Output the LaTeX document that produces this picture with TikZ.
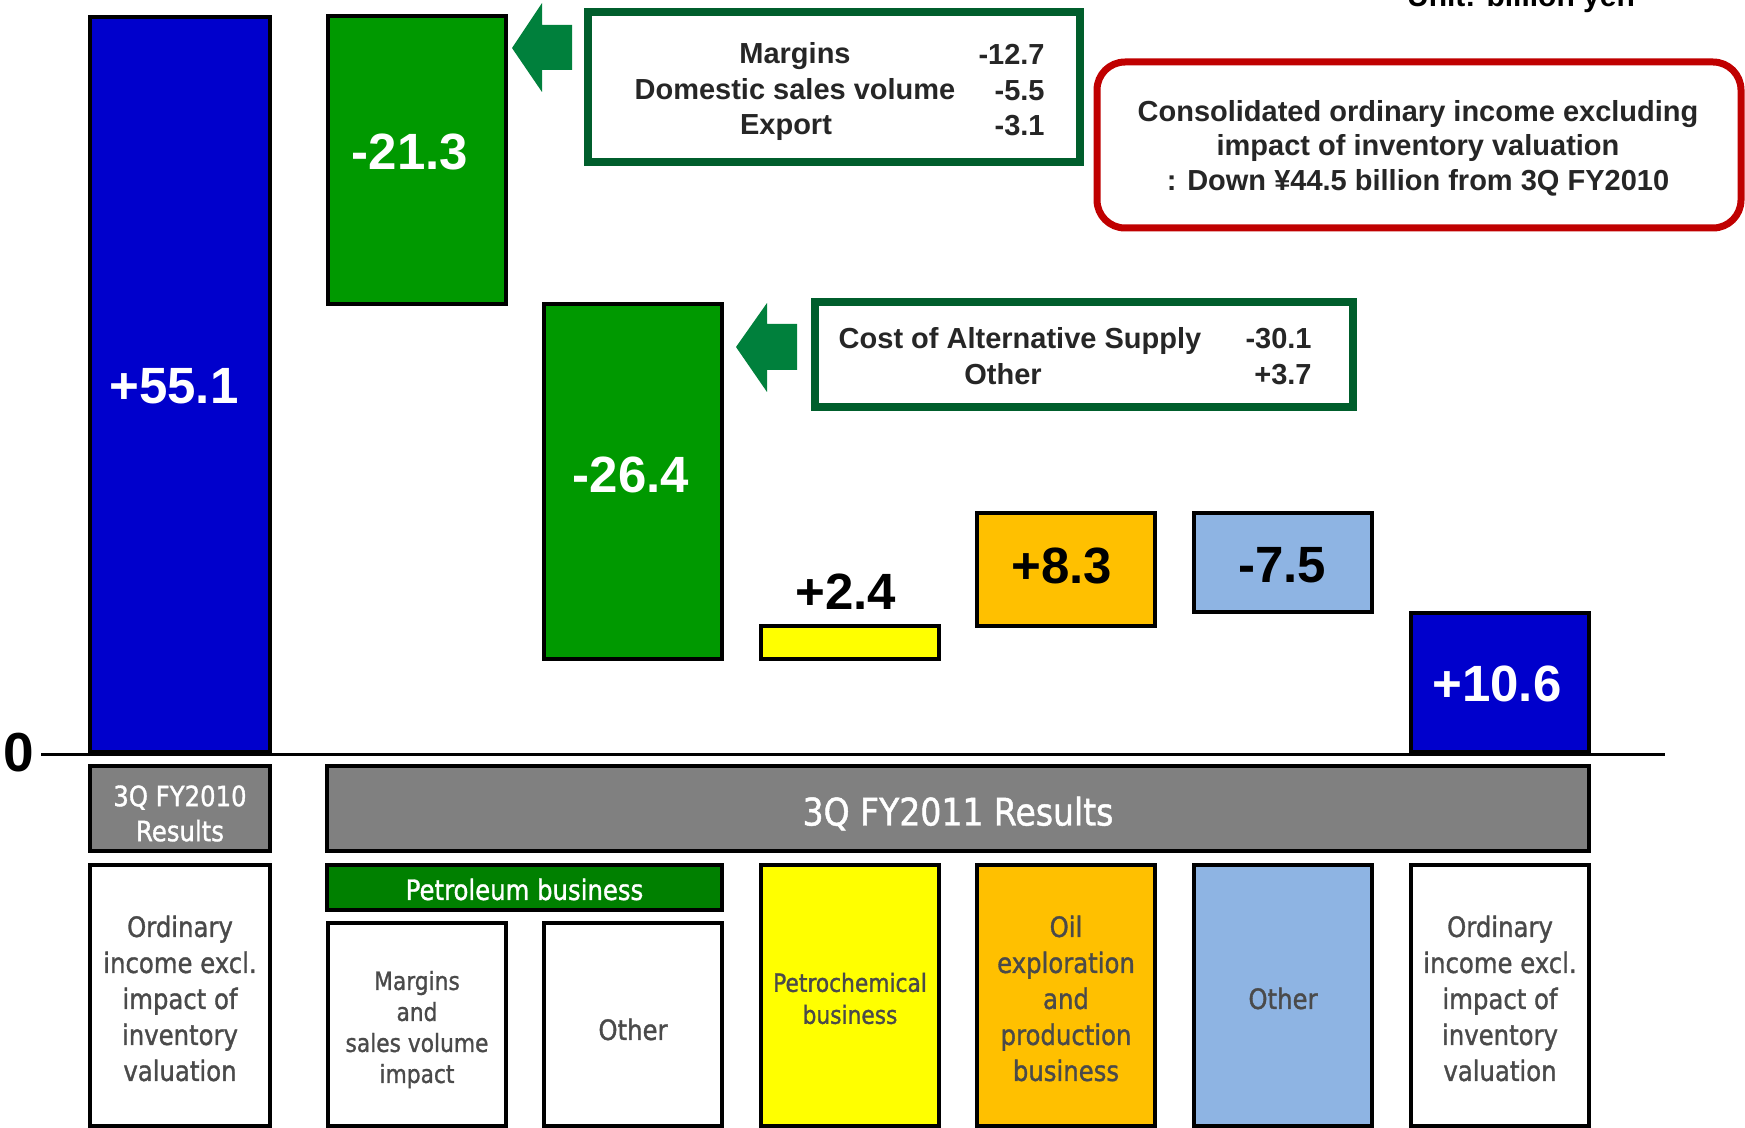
\documentclass[tikz,border=0pt]{standalone}
\usepackage{fontspec}
\setmainfont{Liberation Sans}
\newfontfamily\gfont{DejaVu Sans}[FakeStretch=0.87,FakeBold=1.2]
\usetikzlibrary{fit}
\definecolor{cblue}{HTML}{0000CC}
\definecolor{cgreen}{HTML}{009900}
\definecolor{cyellow}{HTML}{FFFF00}
\definecolor{corange}{HTML}{FFC000}
\definecolor{clblue}{HTML}{8EB4E3}
\definecolor{cgray}{HTML}{808080}
\definecolor{cpetro}{HTML}{008000}
\definecolor{carrow}{HTML}{00803C}
\definecolor{cdkgreen}{HTML}{005E2C}
\definecolor{cred}{HTML}{C00000}
\definecolor{ctext}{HTML}{262626}
\definecolor{cgtext}{HTML}{4A4A4A}
\tikzset{
  barbox/.style={draw=black, line width=2pt, inner sep=0pt},
  numw/.style={font=\fontsize{25.5}{30}\selectfont\bfseries, text=white, inner sep=0pt},
  numb/.style={font=\fontsize{25.5}{30}\selectfont\bfseries, text=black, inner sep=0pt},
  ctxt/.style={font=\fontsize{14.5}{17}\selectfont\bfseries, text=ctext, inner sep=0pt},
  callbox/.style={draw=cdkgreen, line width=4pt, inner sep=0pt, fill=white},
  redbox/.style={draw=cred, line width=3.5pt, rounded corners=14pt, inner sep=0pt, fill=white},
  glab/.style={font=\gfont\fontsize{14}{18}\selectfont, text=cgtext, align=center, inner sep=0pt},
  glabs/.style={font=\gfont\fontsize{12.5}{15.5}\selectfont, text=cgtext, align=center, inner sep=0pt},
  glabp/.style={font=\gfont\fontsize{12.5}{16}\selectfont, text=cgtext, align=center, inner sep=0pt},
  wlab/.style={font=\gfont\fontsize{14}{17.5}\selectfont, text=white, align=center, inner sep=0pt},
  wlabb/.style={font=\gfont\fontsize{19}{22}\selectfont, text=white, inner sep=0pt},
  wlabp/.style={font=\gfont\fontsize{14}{16}\selectfont, text=white, inner sep=0pt},
}
\begin{document}
\begin{tikzpicture}[x=0.5pt,y=-0.5pt]
\useasboundingbox (0,0) rectangle (1745,1128);
\clip (0,0) rectangle (1745,1128);
\fill[white] (0,0) rectangle (1745,1128);

% zero axis
\coordinate (ax0) at (41,754);
\coordinate (ax1) at (1665,754);
\draw[line width=1.5pt] (ax0) -- (ax1);
\node[font=\fontsize{27.5}{30}\selectfont\bfseries, inner sep=0pt] (zlab) at (19,753) {0};

% waterfall bars
\node[barbox, fill=cblue,   fit={(90,17)(270,752)}]    (b1) {};
\node[barbox, fill=cgreen,  fit={(328,16)(506,304)}]   (g1) {};
\node[barbox, fill=cgreen,  fit={(544,304)(722,659)}]  (g2) {};
\node[barbox, fill=cyellow, fit={(761,626)(939,659)}]  (y1) {};
\node[barbox, fill=corange, fit={(977,513)(1155,626)}] (o1) {};
\node[barbox, fill=clblue,  fit={(1194,513)(1372,612)}] (lb1) {};
\node[barbox, fill=cblue,   fit={(1411,613)(1589,752)}] (b2) {};

% bar values
\node[numw] (l1) at (174,386) {+55.1};
\node[numw] (l2) at (410,152) {-21.3};
\node[numw] (l3) at (631,475) {-26.4};
\node[numb] (l4) at (846,592) {+2.4};
\node[numb] (l5) at (1062,566) {+8.3};
\node[numb] (l6) at (1282,565) {-7.5};
\node[numw] (l7) at (1497,684) {+10.6};

% block arrows
\fill[carrow] (512,48) -- (542,3) -- (542,25) -- (572,25) -- (572,70) -- (542,70) -- (542,92) -- cycle;
\fill[carrow] (736,347) -- (767,303) -- (767,324) -- (797,324) -- (797,370) -- (767,370) -- (767,392) -- cycle;

% callout 1
\node[callbox, fit={(587.5,12.5)(1080,162.5)}] (c1) {};
\node[ctxt, anchor=base] (m1) at (795,64) {Margins};
\node[ctxt, anchor=base] (m2) at (795,100) {Domestic sales volume};
\node[ctxt, anchor=base] (m3) at (786,135) {Export};
\node[ctxt, anchor=base east] (v1) at (1045,65) {-12.7};
\node[ctxt, anchor=base east] (v2) at (1045,101) {-5.5};
\node[ctxt, anchor=base east] (v3) at (1045,136) {-3.1};

% callout 2
\node[callbox, fit={(814.5,302)(1352.5,407.5)}] (c2) {};
\node[ctxt, anchor=base] (a1) at (1020,349) {Cost of Alternative Supply};
\node[ctxt, anchor=base] (a2) at (1003,385) {Other};
\node[ctxt, anchor=base east] (av1) at (1312,349) {-30.1};
\node[ctxt, anchor=base east] (av2) at (1312,385) {+3.7};

% red summary box
\node[redbox, fit={(1097,62)(1741,228)}] (rb) {};
\node[ctxt, align=center, font=\fontsize{14.5}{17.3}\selectfont\bfseries] (rt) at (1418,148)
  {Consolidated ordinary income excluding\\impact of inventory valuation\\: Down ¥44.5 billion from 3Q FY2010};

% unit
\node[ctxt, anchor=base, text=black, font=\fontsize{15}{18}\selectfont\bfseries] (unit) at (1521,7) {Unit: billion yen};

% category headers
\node[barbox, fill=cgray, fit={(90,766)(270,851)}] (h1) {};
\node[wlab] (h1t) at ([yshift=-2.5pt]h1.center) {3Q FY2010\\Results};
\node[barbox, fill=cgray, fit={(327,766)(1589,851)}] (h2) {};
\node[wlabb] (h2t) at ([yshift=-2.5pt]h2.center) {3Q FY2011 Results};
\node[barbox, fill=cpetro, fit={(327,865)(722,910)}] (pb) {};
\node[wlabp] (pbt) at ([yshift=-1pt]pb.center) {Petroleum business};

% category boxes
\node[barbox, fill=white, fit={(90,865)(270,1126)}] (k1) {};
\node[glab] (k1t) at ([yshift=-1.5pt]k1.center) {Ordinary\\income excl.\\impact of\\inventory\\valuation};
\node[barbox, fill=white, fit={(328,923)(506,1126)}] (k2) {};
\node[glabs] (k2t) at ([yshift=-2.5pt]k2.center) {Margins\\and\\sales volume\\impact};
\node[barbox, fill=white, fit={(544,923)(722,1126)}] (k3) {};
\node[glab] (k3t) at ([yshift=-2.5pt]k3.center) {Other};
\node[barbox, fill=cyellow, fit={(761,865)(939,1126)}] (k4) {};
\node[glabp] (k4t) at ([yshift=-1.5pt]k4.center) {Petrochemical\\business};
\node[barbox, fill=corange, fit={(977,865)(1155,1126)}] (k5) {};
\node[glab] (k5t) at ([yshift=-1.5pt]k5.center) {Oil\\exploration\\and\\production\\business};
\node[barbox, fill=clblue, fit={(1194,865)(1372,1126)}] (k6) {};
\node[glab] (k6t) at ([yshift=-1.5pt]k6.center) {Other};
\node[barbox, fill=white, fit={(1411,865)(1589,1126)}] (k7) {};
\node[glab] (k7t) at ([yshift=-1.5pt]k7.center) {Ordinary\\income excl.\\impact of\\inventory\\valuation};
\end{tikzpicture}
\end{document}
